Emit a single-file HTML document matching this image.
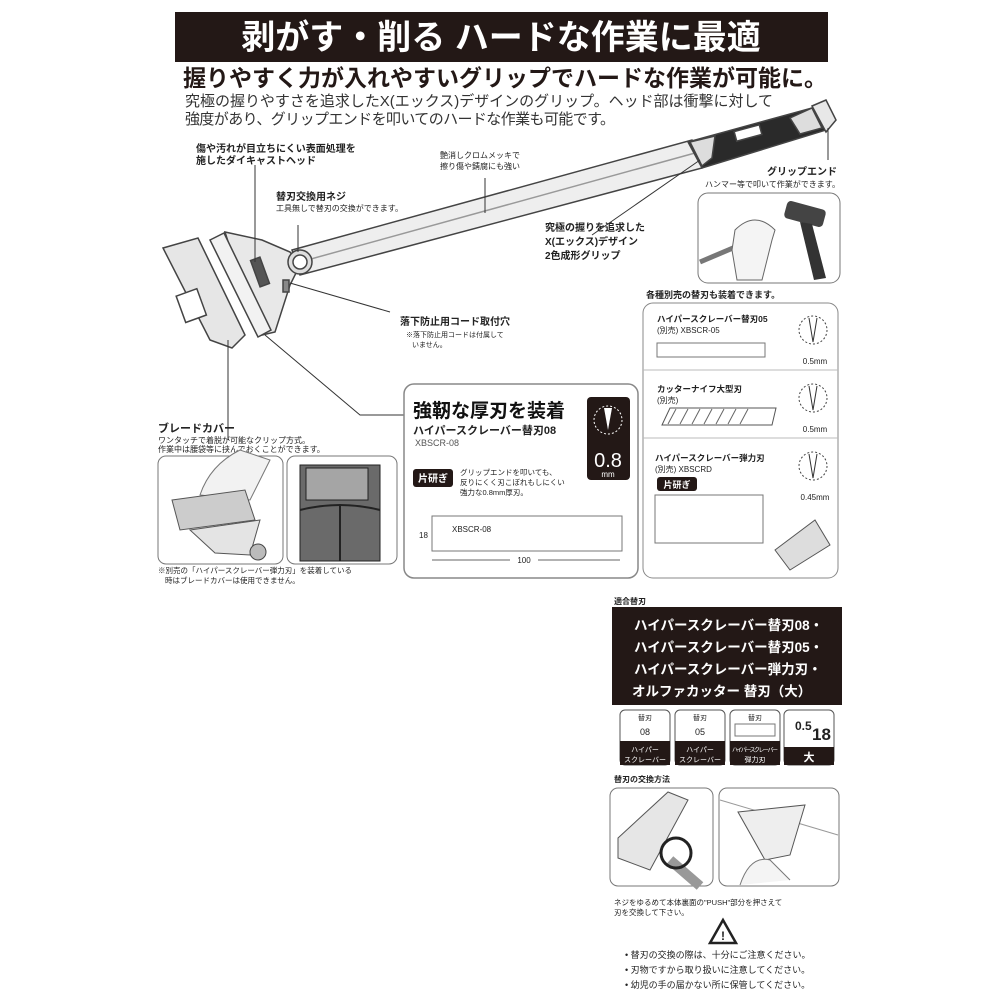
<!DOCTYPE html>
<html><head><meta charset="utf-8"><style>
html,body{margin:0;padding:0;background:#fff}
svg{display:block}
text{font-family:"Liberation Sans","Noto Sans CJK JP",sans-serif;fill:#222}
.b{font-weight:bold}
</style></head><body>
<svg width="1000" height="1000" viewBox="0 0 1000 1000" xmlns="http://www.w3.org/2000/svg">
<!-- title -->
<rect x="175" y="12" width="653" height="50" fill="#231816"/>
<text x="501" y="49" text-anchor="middle" class="b" font-size="34" style="fill:#fff">剥がす・削る ハードな作業に最適</text>
<text x="183" y="86" class="b" font-size="23" style="fill:#231816">握りやすく力が入れやすいグリップでハードな作業が可能に。</text>
<text x="185" y="106" font-size="15" textLength="588" style="fill:#333">究極の握りやすさを追求したX(エックス)デザインのグリップ。ヘッド部は衝撃に対して</text>
<text x="185" y="124" font-size="15" textLength="430" style="fill:#333">強度があり、グリップエンドを叩いてのハードな作業も可能です。</text>

<!-- handle -->
<g stroke="#444" stroke-width="1.5">
<polygon points="292,250 692,140 702,168 300,275" fill="#eee"/>
<line x1="300" y1="262" x2="695" y2="153" stroke="#999"/>
<polygon points="688,142 812,108 826,130 702,168" fill="#2a2a2a"/>
<polygon points="690,142 715,136 712,158 702,166" fill="#ddd"/>
<polygon points="790,118 812,108 822,128 800,134" fill="#ddd"/>
<polygon points="812,106 826,100 836,120 826,132" fill="#e8e8e8"/>
<rect x="735" y="128" width="26" height="10" fill="#fff" transform="rotate(-15 748 133)"/>
<!-- head -->
<polygon points="225,232 262,240 290,252 300,265 290,285 275,332 258,336" fill="#e8e8e8"/>
<polygon points="210,240 224,233 271,330 258,337" fill="#f2f2f2"/>
<circle cx="300" cy="262" r="12" fill="#ddd"/>
<circle cx="300" cy="262" r="7" fill="#fff"/>
<rect x="255" y="258" width="10" height="28" fill="#555" transform="rotate(-20 260 272)"/>
<rect x="283" y="280" width="6" height="12" fill="#888"/>
<!-- blade cover -->
<polygon points="163,248 198,238 245,335 232,348 210,340" fill="#e6e6e6"/>
<rect x="180" y="292" width="22" height="28" fill="#fff" transform="rotate(-20 190 305)"/>
</g>
<g stroke="#333" stroke-width="1" fill="none">
<line x1="255" y1="165" x2="255" y2="262"/>
<line x1="298" y1="225" x2="298" y2="252"/>
<line x1="485" y1="178" x2="485" y2="213"/>
<line x1="592" y1="235" x2="700" y2="160"/>
<line x1="290" y1="283" x2="390" y2="312"/>
<line x1="228" y1="340" x2="228" y2="440"/>
<polyline points="265,335 360,415 405,415"/>
<line x1="828" y1="128" x2="828" y2="160"/>
</g>
<text x="196" y="152" font-size="10" class="b">傷や汚れが目立ちにくい表面処理を</text>
<text x="196" y="164" font-size="10" class="b">施したダイキャストヘッド</text>
<text x="276" y="200" font-size="10" class="b">替刃交換用ネジ</text>
<text x="276" y="211" font-size="8">工具無しで替刃の交換ができます。</text>
<text x="440" y="158" font-size="8">艶消しクロムメッキで</text>
<text x="440" y="169" font-size="8">擦り傷や錆腐にも強い</text>
<text x="545" y="231" font-size="10" class="b">究極の握りを追求した</text>
<text x="545" y="245" font-size="10" class="b">X(エックス)デザイン</text>
<text x="545" y="259" font-size="10" class="b">2色成形グリップ</text>
<text x="767" y="175" font-size="10" class="b">グリップエンド</text>
<text x="705" y="187" font-size="8">ハンマー等で叩いて作業ができます。</text>
<text x="400" y="325" font-size="10" class="b">落下防止用コード取付穴</text>
<text x="406" y="337" font-size="7">※落下防止用コードは付属して</text>
<text x="412" y="347" font-size="7">いません。</text>

<!-- grip end photo -->
<rect x="698" y="193" width="142" height="90" rx="10" fill="#fff" stroke="#777"/>
<rect x="785" y="205" width="40" height="18" rx="4" fill="#444" transform="rotate(15 805 214)"/>
<polygon points="800,222 812,224 826,278 814,280" fill="#333"/>
<line x1="700" y1="262" x2="740" y2="245" stroke="#777" stroke-width="5"/>
<path d="M735 230 q20 -20 40 0 l-3 10 l-10 40 h-25 l-5 -30z" fill="#f4f4f4" stroke="#666"/>

<!-- blade cover section -->
<text x="158" y="432" font-size="11" class="b">ブレードカバー</text>
<text x="158" y="443" font-size="8">ワンタッチで着脱が可能なクリップ方式。</text>
<text x="158" y="452" font-size="8">作業中は腰袋等に挟んでおくことができます。</text>
<rect x="158" y="456" width="125" height="108" rx="8" fill="#fff" stroke="#777"/>
<path d="M200 495 q10 -30 40 -45 l30 10 l-20 40z" fill="#f2f2f2" stroke="#777"/>
<polygon points="172,500 245,490 255,520 180,530" fill="#ccc" stroke="#555"/>
<polygon points="190,530 260,520 250,555 215,553" fill="#e4e4e4" stroke="#555"/>
<circle cx="258" cy="552" r="8" fill="#bbb" stroke="#444"/>
<rect x="287" y="456" width="110" height="108" rx="8" fill="#fff" stroke="#777"/>
<rect x="300" y="465" width="80" height="96" fill="#6a6a6a" stroke="#222"/>
<rect x="306" y="468" width="62" height="32" fill="#a5a5a5" stroke="#222"/>
<path d="M300 510 q40 -10 80 0" fill="none" stroke="#222" stroke-width="2"/>
<line x1="340" y1="505" x2="340" y2="561" stroke="#222" stroke-width="2"/>
<text x="158" y="573" font-size="7.5">※別売の「ハイパースクレーバー弾力刃」を装着している</text>
<text x="165" y="583" font-size="7.5">時はブレードカバーは使用できません。</text>

<!-- center box -->
<rect x="404" y="384" width="234" height="194" rx="10" fill="#fff" stroke="#888" stroke-width="1.5"/>
<text x="413" y="417" font-size="19" class="b" style="fill:#111">強靭な厚刃を装着</text>
<text x="413" y="434" font-size="11" class="b">ハイパースクレーバー替刃08</text>
<text x="415" y="446" font-size="9" style="fill:#555">XBSCR-08</text>
<rect x="587" y="397" width="43" height="83" rx="4" fill="#231816"/>
<circle cx="608" cy="420" r="14" fill="none" stroke="#fff" stroke-dasharray="2 2"/>
<path d="M604 408 l8 0 l-4 22z" fill="#fff"/>
<text x="608" y="467" text-anchor="middle" font-size="20" style="fill:#fff">0.8</text>
<text x="608" y="477" text-anchor="middle" font-size="8" style="fill:#fff">mm</text>
<rect x="413" y="469" width="40" height="18" rx="3" fill="#231816"/>
<text x="433" y="482" text-anchor="middle" font-size="10" class="b" style="fill:#fff">片研ぎ</text>
<text x="460" y="475" font-size="7.5">グリップエンドを叩いても、</text>
<text x="460" y="485" font-size="7.5">反りにくく刃こぼれもしにくい</text>
<text x="460" y="495" font-size="7.5">強力な0.8mm厚刃。</text>
<rect x="432" y="516" width="190" height="35" fill="#fff" stroke="#777"/>
<text x="452" y="532" font-size="8">XBSCR-08</text>
<text x="419" y="538" font-size="8">18</text>
<line x1="432" y1="560" x2="620" y2="560" stroke="#666"/>
<rect x="510" y="554" width="28" height="12" fill="#fff"/>
<text x="524" y="563" text-anchor="middle" font-size="8">100</text>

<!-- right panel -->
<text x="646" y="298" font-size="9" class="b">各種別売の替刃も装着できます。</text>
<rect x="643" y="303" width="195" height="275" rx="10" fill="#fff" stroke="#888"/>
<line x1="643" y1="370" x2="838" y2="370" stroke="#bbb"/>
<line x1="643" y1="438" x2="838" y2="438" stroke="#bbb"/>
<text x="657" y="322" font-size="8.5" class="b">ハイパースクレーバー替刃05</text>
<text x="657" y="333" font-size="8">(別売) XBSCR-05</text>
<rect x="657" y="343" width="108" height="14" fill="#fff" stroke="#777"/>
<text x="657" y="392" font-size="8.5" class="b">カッターナイフ大型刃</text>
<text x="657" y="403" font-size="8">(別売)</text>
<polygon points="662,425 670,408 776,408 772,425" fill="#fff" stroke="#555"/>
<g stroke="#666"><line x1="668" y1="424" x2="676" y2="409"/><line x1="680" y1="424" x2="688" y2="409"/><line x1="692" y1="424" x2="700" y2="409"/><line x1="704" y1="424" x2="712" y2="409"/><line x1="716" y1="424" x2="724" y2="409"/><line x1="728" y1="424" x2="736" y2="409"/><line x1="740" y1="424" x2="748" y2="409"/></g>
<text x="655" y="461" font-size="8.5" class="b">ハイパースクレーバー弾力刃</text>
<text x="655" y="472" font-size="8">(別売) XBSCRD</text>
<rect x="657" y="477" width="40" height="14" rx="3" fill="#231816"/>
<text x="677" y="488" text-anchor="middle" font-size="9" class="b" style="fill:#fff">片研ぎ</text>
<rect x="655" y="495" width="108" height="48" fill="#fff" stroke="#777"/>
<g fill="none" stroke="#444" stroke-dasharray="2 2">
<circle cx="813" cy="330" r="14"/><circle cx="813" cy="398" r="14"/><circle cx="813" cy="466" r="14"/>
</g>
<g fill="none" stroke="#333"><path d="M809 318 l4 24 l4 -24"/><path d="M809 386 l4 24 l4 -24"/><path d="M809 454 l4 24 l4 -24"/></g>
<text x="815" y="364" text-anchor="middle" font-size="8">0.5mm</text>
<text x="815" y="432" text-anchor="middle" font-size="8">0.5mm</text>
<text x="815" y="500" text-anchor="middle" font-size="8">0.45mm</text>
<polygon points="775,550 815,520 830,545 790,570" fill="#ddd" stroke="#555"/>

<!-- compatible blades -->
<text x="614" y="604" font-size="8" class="b">適合替刃</text>
<rect x="612" y="607" width="230" height="98" fill="#231816"/>
<g font-size="13.5" class="b">
<text x="634" y="630" style="fill:#fff">ハイパースクレーバー替刃08・</text>
<text x="634" y="652" style="fill:#fff">ハイパースクレーバー替刃05・</text>
<text x="634" y="674" style="fill:#fff">ハイパースクレーバー弾力刃・</text>
<text x="632" y="696" style="fill:#fff">オルファカッター 替刃（大）</text>
</g>
<g stroke="#555" fill="#fff">
<rect x="620" y="710" width="50" height="55" rx="5"/><rect x="675" y="710" width="50" height="55" rx="5"/>
<rect x="730" y="710" width="50" height="55" rx="5"/><rect x="784" y="710" width="50" height="55" rx="5"/>
</g>
<g fill="#231816">
<rect x="620" y="741" width="50" height="24"/><rect x="675" y="741" width="50" height="24"/>
<rect x="730" y="741" width="50" height="24"/><rect x="784" y="747" width="50" height="18"/>
</g>
<text x="645" y="720" text-anchor="middle" font-size="7">替刃</text><text x="645" y="735" text-anchor="middle" font-size="9">08</text>
<text x="700" y="720" text-anchor="middle" font-size="7">替刃</text><text x="700" y="735" text-anchor="middle" font-size="9">05</text>
<text x="755" y="720" text-anchor="middle" font-size="7">替刃</text>
<rect x="735" y="724" width="40" height="12" fill="#fff" stroke="#777"/>
<text x="645" y="752" text-anchor="middle" font-size="7" style="fill:#fff">ハイパー</text><text x="645" y="762" text-anchor="middle" font-size="7" style="fill:#fff">スクレーバー</text>
<text x="700" y="752" text-anchor="middle" font-size="7" style="fill:#fff">ハイパー</text><text x="700" y="762" text-anchor="middle" font-size="7" style="fill:#fff">スクレーバー</text>
<text x="755" y="752" text-anchor="middle" font-size="6" textLength="46" style="fill:#fff">ハイパースクレーバー</text><text x="755" y="762" text-anchor="middle" font-size="7" style="fill:#fff">弾力刃</text>
<text x="795" y="730" font-size="12" class="b">0.5</text><text x="812" y="740" font-size="17" class="b">18</text>
<text x="809" y="761" text-anchor="middle" font-size="11" class="b" style="fill:#fff">大</text>

<!-- exchange -->
<text x="614" y="782" font-size="8" class="b">替刃の交換方法</text>
<rect x="610" y="788" width="103" height="98" rx="8" fill="#fff" stroke="#777"/>
<rect x="719" y="788" width="120" height="98" rx="8" fill="#fff" stroke="#777"/>
<polygon points="618,838 668,792 688,800 650,870 618,858" fill="#e6e6e6" stroke="#555"/>
<line x1="670" y1="860" x2="700" y2="886" stroke="#999" stroke-width="10"/>
<circle cx="676" cy="853" r="15" fill="none" stroke="#222" stroke-width="3"/>
<line x1="720" y1="800" x2="838" y2="835" stroke="#999"/>
<polygon points="738,812 805,805 790,855 765,860" fill="#eee" stroke="#555"/>
<path d="M740 885 q10 -30 30 -25 l20 20" fill="#f4f4f4" stroke="#777"/>
<text x="614" y="905" font-size="7.5">ネジをゆるめて本体裏面の"PUSH"部分を押さえて</text>
<text x="614" y="915" font-size="7.5">刃を交換して下さい。</text>
<polygon points="723,920 710,943 736,943" fill="none" stroke="#222" stroke-width="2.5"/>
<text x="723" y="940" text-anchor="middle" font-size="12" class="b">!</text>
<text x="625" y="958" font-size="9">• 替刃の交換の際は、十分にご注意ください。</text>
<text x="625" y="973" font-size="9">• 刃物ですから取り扱いに注意してください。</text>
<text x="625" y="988" font-size="9">• 幼児の手の届かない所に保管してください。</text>
</svg>
</body></html>
